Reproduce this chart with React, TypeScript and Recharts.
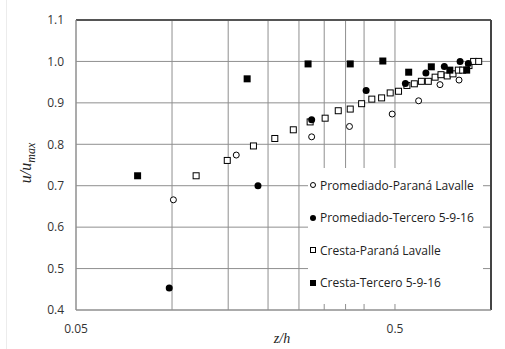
import { ScatterChart, Scatter, XAxis, YAxis, CartesianGrid, Legend, ReferenceLine, Label } from "recharts"

// z/h, u/umax pairs
const promedioParana: [number, number][] = [
  [0.101, 0.666], [0.159, 0.774], [0.274, 0.818], [0.36, 0.843],
  [0.49, 0.873], [0.593, 0.905], [0.692, 0.944], [0.794, 0.955],
]

const promedioTercero: [number, number][] = [
  [0.098, 0.453], [0.186, 0.7], [0.274, 0.859], [0.406, 0.93],
  [0.539, 0.947], [0.625, 0.972], [0.714, 0.988], [0.8, 1.0], [0.849, 0.995],
]

const crestaParana: [number, number][] = [
  [0.119, 0.724], [0.149, 0.761], [0.18, 0.796], [0.21, 0.814], [0.24, 0.835],
  [0.271, 0.854], [0.302, 0.863], [0.332, 0.881], [0.362, 0.885], [0.393, 0.898],
  [0.423, 0.909], [0.454, 0.912], [0.483, 0.924], [0.513, 0.928], [0.545, 0.942],
  [0.575, 0.946], [0.605, 0.952], [0.636, 0.952], [0.668, 0.962], [0.697, 0.968],
  [0.729, 0.965], [0.76, 0.97], [0.79, 0.979], [0.815, 0.979], [0.853, 0.99],
  [0.882, 1.0], [0.915, 1.0],
]

const crestaTercero: [number, number][] = [
  [0.078, 0.724], [0.172, 0.958], [0.267, 0.994], [0.362, 0.994], [0.458, 1.001],
  [0.552, 0.974], [0.65, 0.987], [0.743, 0.979], [0.839, 0.979],
]

const xTicks = [0.05, 0.1, 0.15, 0.2, 0.25, 0.3, 0.35, 0.4, 0.45, 0.5]
const xLabels = [0.05, 0.5]
const yTicks = [0.4, 0.5, 0.6, 0.7, 0.8, 0.9, 1.0, 1.1]

const toPoints = (rows: [number, number][]) => rows.map(([x, y]) => ({ x, y }))

const FONT = "'Open Sans', sans-serif"

const OpenCircle = (p: any) => (
  <circle cx={p.cx} cy={p.cy} r={3} fill="#fff" stroke="#000" strokeWidth={1} />
)
const FilledCircle = (p: any) => <circle cx={p.cx} cy={p.cy} r={3.5} fill="#000" />
const OpenSquare = (p: any) => (
  <rect x={p.cx - 3} y={p.cy - 3} width={6} height={6} fill="#fff" stroke="#000" strokeWidth={1} />
)
const FilledSquare = (p: any) => <rect x={p.cx - 3.5} y={p.cy - 3.5} width={7} height={7} fill="#000" />

const legendRows = [
  { name: "Promediado-Paraná Lavalle", icon: <circle cx={4} cy={5} r={2.5} fill="#fff" stroke="#000" /> },
  { name: "Promediado-Tercero 5-9-16", icon: <circle cx={4} cy={5} r={3} fill="#000" /> },
  { name: "Cresta-Paraná Lavalle", icon: <rect x={1.5} y={2.5} width={5} height={5} fill="#fff" stroke="#000" /> },
  { name: "Cresta-Tercero 5-9-16", icon: <rect x={1} y={2} width={6} height={6} fill="#000" /> },
]

function LegendBox() {
  return (
    <div style={{ paddingTop: 1, paddingLeft: 1, fontFamily: FONT, fontSize: 12, color: "#222" }}>
      {legendRows.map((r) => (
        <div key={r.name} style={{ height: 32.5, display: "flex", alignItems: "center" }}>
          <svg width={8} height={10}>{r.icon}</svg>
          <span style={{ marginLeft: 3 }}>{r.name}</span>
        </div>
      ))}
    </div>
  )
}

export default function App() {
  return (
    <div style={{ position: "absolute", left: 0, top: 0, width: 505, height: 349, background: "#fff" }}>
      <div style={{ position: "absolute", left: 6, top: 0, width: 1, height: 349, background: "#ececec" }} />
      <ScatterChart width={505} height={349} margin={{ top: 20, right: 14, bottom: 0, left: 36 }}>
        <CartesianGrid stroke="#8f8f8f" strokeWidth={1} />
        <XAxis
          type="number"
          dataKey="x"
          scale="log"
          domain={[0.05, 1]}
          ticks={xTicks}
          allowDataOverflow
          height={39}
          stroke="#8f8f8f"
          tickLine={false}
          tickSize={0}
          tickMargin={14}
          tick={{ fill: "#333", fontSize: 12, fontFamily: FONT }}
          tickFormatter={(v: number) => (xLabels.includes(v) ? String(v) : "")}
        >
          <Label
            content={() => (
              <text x={282} y={343} textAnchor="middle" fontFamily="'Liberation Serif', serif" fontStyle="italic" fontSize={14} fill="#222">
                z/h
              </text>
            )}
          />
        </XAxis>
        <YAxis
          type="number"
          dataKey="y"
          domain={[0.4, 1.1]}
          ticks={yTicks}
          allowDataOverflow
          width={40}
          stroke="#8f8f8f"
          tickLine={false}
          tickSize={0}
          tickMargin={12}
          tick={{ fill: "#333", fontSize: 12, fontFamily: FONT }}
          tickFormatter={(v: number) => v.toFixed(1)}
        >
          <Label
            content={() => (
              <text transform="translate(31,163) rotate(-90)" textAnchor="middle" fontFamily="'Liberation Serif', serif" fontStyle="italic" fontSize={16} fill="#222">
                u/u<tspan fontSize={12} dy={4}>max</tspan>
              </text>
            )}
          />
        </YAxis>
        <ReferenceLine y={1.1} stroke="#555" strokeWidth={2} />
        <ReferenceLine x={1} stroke="#444" strokeWidth={2} />
        <Scatter name="Promediado-Paraná Lavalle" data={toPoints(promedioParana)} shape={OpenCircle} isAnimationActive={false} />
        <Scatter name="Cresta-Paraná Lavalle" data={toPoints(crestaParana)} shape={OpenSquare} isAnimationActive={false} />
        <Scatter name="Promediado-Tercero 5-9-16" data={toPoints(promedioTercero)} shape={FilledCircle} isAnimationActive={false} />
        <Scatter name="Cresta-Tercero 5-9-16" data={toPoints(crestaTercero)} shape={FilledSquare} isAnimationActive={false} />
        <Legend
          layout="vertical"
          align="center"
          verticalAlign="middle"
          content={() => <LegendBox />}
          wrapperStyle={{ left: 308, top: 168, width: 175, height: 136, background: "#fff" }}
        />
      </ScatterChart>
    </div>
  )
}
